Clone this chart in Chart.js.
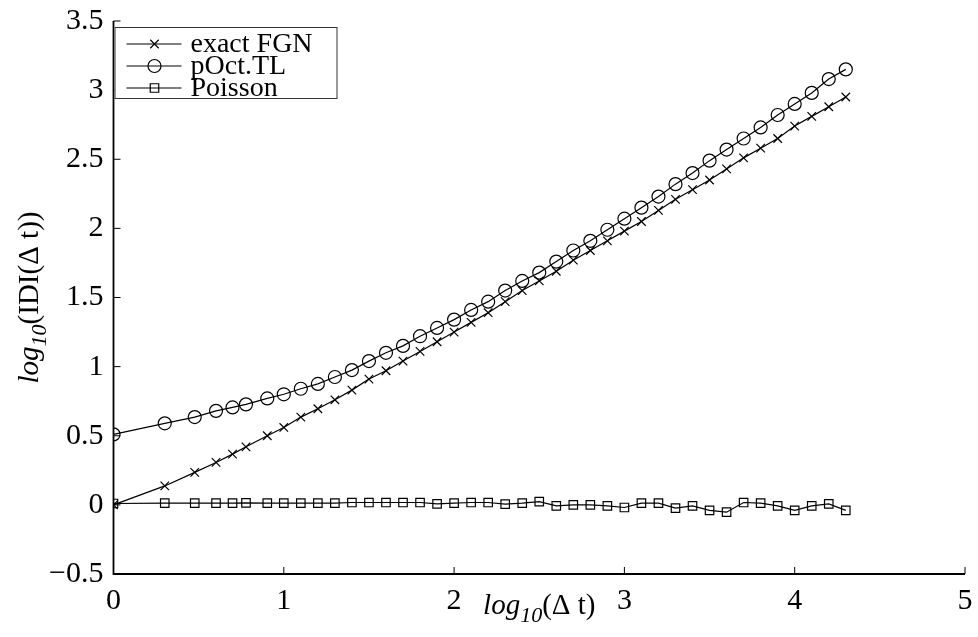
<!DOCTYPE html>
<html>
<head>
  <title>log10 IDI vs log10 dt</title>
  <script src="https://cdn.jsdelivr.net/npm/chart.js"></script>
  <style>
    body { margin: 0; background: #fff; }
    #wrap { width: 978px; height: 637px; position: relative; }
  </style>
</head>
<body>
<div id="wrap"><canvas id="idiChart"></canvas></div>

<script>
  // x positions: log10(dt)
  const logDt = [0, 0.301, 0.477, 0.602, 0.699, 0.778, 0.903, 1.0, 1.1, 1.2, 1.3, 1.4, 1.5, 1.6, 1.7, 1.8, 1.9,
    2.0, 2.1, 2.2, 2.3, 2.4, 2.5, 2.6, 2.7, 2.8, 2.9, 3.0, 3.1, 3.2, 3.3, 3.4, 3.5, 3.6, 3.7, 3.8, 3.9,
    4.0, 4.1, 4.2, 4.3];

  const exactFGN = [0.0, 0.137, 0.235, 0.307, 0.367, 0.42, 0.50, 0.56, 0.635, 0.695, 0.76, 0.83, 0.91, 0.97, 1.04, 1.11, 1.18,
    1.25, 1.32, 1.39, 1.47, 1.55, 1.62, 1.69, 1.77, 1.84, 1.91, 1.98, 2.05, 2.13, 2.21, 2.28, 2.35, 2.43, 2.51, 2.58, 2.65,
    2.74, 2.81, 2.88, 2.95];

  const pOctTL = [0.51, 0.59, 0.635, 0.68, 0.705, 0.727, 0.77, 0.80, 0.84, 0.875, 0.925, 0.975, 1.04, 1.10, 1.15, 1.22, 1.28,
    1.34, 1.41, 1.47, 1.55, 1.62, 1.68, 1.76, 1.84, 1.91, 1.99, 2.07, 2.15, 2.23, 2.32, 2.40, 2.49, 2.57, 2.65, 2.73, 2.82,
    2.90, 2.98, 3.08, 3.15];

  const poisson = [0.01, 0.012, 0.012, 0.012, 0.012, 0.015, 0.012, 0.012, 0.012, 0.012, 0.012, 0.017, 0.017, 0.017, 0.017, 0.017, 0.007,
    0.012, 0.017, 0.017, 0.005, 0.012, 0.024, -0.007, 0.0, 0.0, -0.007, -0.019, 0.012, 0.012, -0.024, -0.007, -0.04, -0.053, 0.017, 0.012, -0.007,
    -0.04, -0.007, 0.007, -0.04];

  const seriesNames = ['exact FGN', 'pOct.TL', 'Poisson'];
  const xTicks = [0, 1, 2, 3, 4, 5];
  const yTicks = [-0.5, 0, 0.5, 1, 1.5, 2, 2.5, 3, 3.5];

  const serif = '"Liberation Serif", "Times New Roman", serif';

  function toPoints(ys) {
    return logDt.map((x, i) => ({ x: x, y: ys[i] }));
  }

  function fmtTick(v) {
    const s = String(Math.abs(v));
    return v < 0 ? '\u2212' + s : s;
  }

  // draws "log" + subscript "10" + rest, centred at (cx, cy)
  function drawLogLabel(ctx, rest, cx, cy) {
    const parts = [
      { t: 'log', font: 'italic 29px ' + serif, dy: 0 },
      { t: '10', font: 'italic 22px ' + serif, dy: 10 },
      { t: rest, font: '29px ' + serif, dy: 0 }
    ];
    let total = 0;
    parts.forEach(p => { ctx.font = p.font; p.w = ctx.measureText(p.t).width; total += p.w; });
    let x = cx - total / 2;
    ctx.textBaseline = 'middle';
    ctx.textAlign = 'left';
    parts.forEach(p => {
      ctx.font = p.font;
      ctx.fillText(p.t, x, cy + p.dy);
      x += p.w;
    });
  }

  const decorPlugin = {
    id: 'decor',
    afterDraw(chart) {
      const ctx = chart.ctx;
      const a = chart.chartArea;
      const xs = chart.scales.x;
      const ys = chart.scales.y;
      ctx.save();
      ctx.strokeStyle = '#000';
      ctx.fillStyle = '#000';

      // axis lines
      ctx.lineWidth = 1.8;
      ctx.beginPath();
      ctx.moveTo(a.left, a.top);
      ctx.lineTo(a.left, a.bottom);
      ctx.lineTo(a.right, a.bottom);
      ctx.stroke();

      // inward ticks
      ctx.lineWidth = 1;
      ctx.beginPath();
      xTicks.forEach(v => {
        const px = xs.getPixelForValue(v);
        ctx.moveTo(px, a.bottom);
        ctx.lineTo(px, a.bottom - 7);
      });
      yTicks.forEach(v => {
        const py = ys.getPixelForValue(v);
        ctx.moveTo(a.left, py);
        ctx.lineTo(a.left + 7, py);
      });
      ctx.stroke();

      // axis titles
      drawLogLabel(ctx, '(\u0394 t)', (a.left + a.right) / 2, 606);
      ctx.save();
      ctx.translate(30, (a.top + a.bottom) / 2);
      ctx.rotate(-Math.PI / 2);
      drawLogLabel(ctx, '(IDI(\u0394 t))', 0, 0);
      ctx.restore();

      // legend
      const lx = a.left + 1, ly = a.top + 6, lw = 222, lh = 71;
      ctx.fillStyle = '#fff';
      ctx.fillRect(lx, ly, lw, lh);
      ctx.strokeStyle = '#333';
      ctx.lineWidth = 1;
      ctx.strokeRect(lx + 0.5, ly + 0.5, lw, lh);
      chart.data.datasets.forEach((ds, i) => {
        const y = ly + 17 + i * 22;
        ctx.strokeStyle = '#000';
        ctx.lineWidth = 1.2;
        ctx.beginPath();
        ctx.moveTo(lx + 12, y);
        ctx.lineTo(lx + 67, y);
        ctx.stroke();
        ctx.fillStyle = 'rgba(0,0,0,0)';
        Chart.helpers.drawPoint(ctx, {
          pointStyle: ds.pointStyle,
          radius: ds.pointRadius,
          rotation: 0,
          borderWidth: 1.2
        }, lx + 40, y);
        ctx.fillStyle = '#000';
        ctx.font = '28px ' + serif;
        ctx.textAlign = 'left';
        ctx.textBaseline = 'middle';
        ctx.fillText(ds.label, lx + 76, y + 1);
      });
      ctx.restore();
    }
  };

  const commonDs = {
    borderColor: '#000',
    borderWidth: 1.2,
    pointBorderColor: '#000',
    pointBackgroundColor: 'rgba(0,0,0,0)',
    pointBorderWidth: 1.2,
    pointHoverRadius: 0,
    tension: 0,
    fill: false
  };

  const ctx = document.getElementById('idiChart').getContext('2d');
  const idiChart = new Chart(ctx, {
    type: 'line',
    data: {
      datasets: [
        Object.assign({ label: seriesNames[0], data: toPoints(exactFGN), pointStyle: 'crossRot', pointRadius: 6 }, commonDs),
        Object.assign({ label: seriesNames[1], data: toPoints(pOctTL), pointStyle: 'circle', pointRadius: 6.5 }, commonDs),
        Object.assign({ label: seriesNames[2], data: toPoints(poisson), pointStyle: 'rect', pointRadius: 6 }, commonDs)
      ]
    },
    options: {
      responsive: true,
      maintainAspectRatio: false,
      animation: false,
      layout: { padding: { left: 0, right: 13, top: 21, bottom: 0 } },
      plugins: {
        legend: { display: false },
        tooltip: { enabled: false }
      },
      scales: {
        x: {
          type: 'linear',
          min: 0,
          max: 5,
          afterBuildTicks(scale) { scale.ticks = xTicks.map(v => ({ value: v })); },
          afterFit(scale) { scale.height = 63; },
          grid: { display: false },
          border: { display: false },
          ticks: {
            color: '#000',
            padding: 1,
            font: { family: serif, size: 30 },
            maxRotation: 0,
            callback: v => fmtTick(v)
          }
        },
        y: {
          type: 'linear',
          min: -0.5,
          max: 3.5,
          afterBuildTicks(scale) { scale.ticks = yTicks.map(v => ({ value: v })); },
          afterFit(scale) { scale.width = 113.5; },
          grid: { display: false },
          border: { display: false },
          ticks: {
            color: '#000',
            padding: 2,
            font: { family: serif, size: 30 },
            callback: v => fmtTick(v)
          }
        }
      }
    },
    plugins: [decorPlugin]
  });
</script>
</body>
</html>
